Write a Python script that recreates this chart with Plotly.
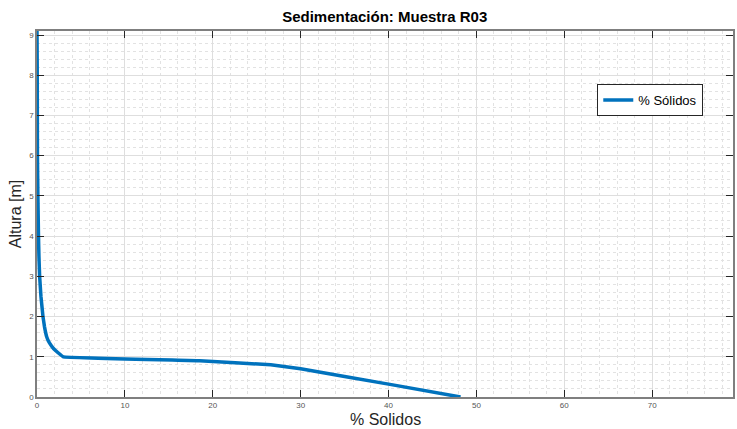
import plotly.graph_objects as go

# Data
solidos = [0.0, 0.03, 0.05, 0.1, 0.17, 0.22, 0.3, 0.45, 0.68, 0.85, 1.1, 1.4, 1.9, 2.4, 3.0, 18.5, 26.6, 30.0, 40.0, 48.2]
altura = [9.1, 8.0, 6.0, 5.0, 4.0, 3.5, 3.0, 2.5, 2.0, 1.75, 1.5, 1.35, 1.2, 1.1, 1.0, 0.9, 0.8, 0.7, 0.32, 0.0]

x_ticks = [0, 10, 20, 30, 40, 50, 60, 70]
y_ticks = [0, 1, 2, 3, 4, 5, 6, 7, 8, 9]

FONT = "Liberation Sans, Arial, sans-serif"
AXIS_COL = "#7f7f7f"

fig = go.Figure()
fig.add_trace(go.Scatter(
    x=solidos, y=altura, mode="lines", name="% Sólidos",
    line=dict(color="#0072BD", width=3.5, shape="spline", smoothing=0.15),
))

axis_common = dict(
    showline=True, linecolor=AXIS_COL, linewidth=1.5, mirror="ticks",
    ticks="inside", ticklen=7, tickwidth=1.2, tickcolor="#262626",
    showgrid=True, gridcolor="#dedede", gridwidth=1,
    zeroline=False,
    tickfont=dict(family=FONT, size=8, color="#555555"),
)

fig.update_layout(
    width=737, height=429,
    margin=dict(l=37, r=2, t=31, b=32),
    paper_bgcolor="white", plot_bgcolor="white",
    title=dict(text="<b>Sedimentación: Muestra R03</b>", x=0.522, xanchor="center",
               y=0.962, yanchor="middle",
               font=dict(family=FONT, size=15, color="#000000")),
    showlegend=True,
    legend=dict(x=0.805, y=0.855, xanchor="left", yanchor="top",
                bgcolor="white", bordercolor="#262626", borderwidth=1,
                font=dict(family=FONT, size=13, color="#000000"),
                tracegroupgap=0, itemwidth=30),
    annotations=[dict(
        text="% Solidos", xref="paper", yref="paper", x=0.5, y=-32 / 366,
        xanchor="center", yanchor="bottom", showarrow=False, borderpad=0,
        font=dict(family=FONT, size=16, color="#262626"),
    )],
)

fig.update_xaxes(
    range=[0, 79.2], tickmode="array", tickvals=x_ticks,
    ticktext=[str(v) for v in x_ticks], ticklabelstandoff=0,
    minor=dict(dtick=2, tick0=0, showgrid=True, gridcolor="#e2e2e2", griddash="dot", gridwidth=1, ticks=""),
    **axis_common,
)
fig.update_yaxes(
    range=[0, 9.1], tickmode="array", tickvals=y_ticks,
    ticktext=[str(v) for v in y_ticks],
    title=dict(text="Altura [m]", font=dict(family=FONT, size=16, color="#262626"), standoff=4),
    minor=dict(dtick=0.2, tick0=0, showgrid=True, gridcolor="#e2e2e2", griddash="dot", gridwidth=1, ticks=""),
    **axis_common,
)

fig.write_html("out.html")
